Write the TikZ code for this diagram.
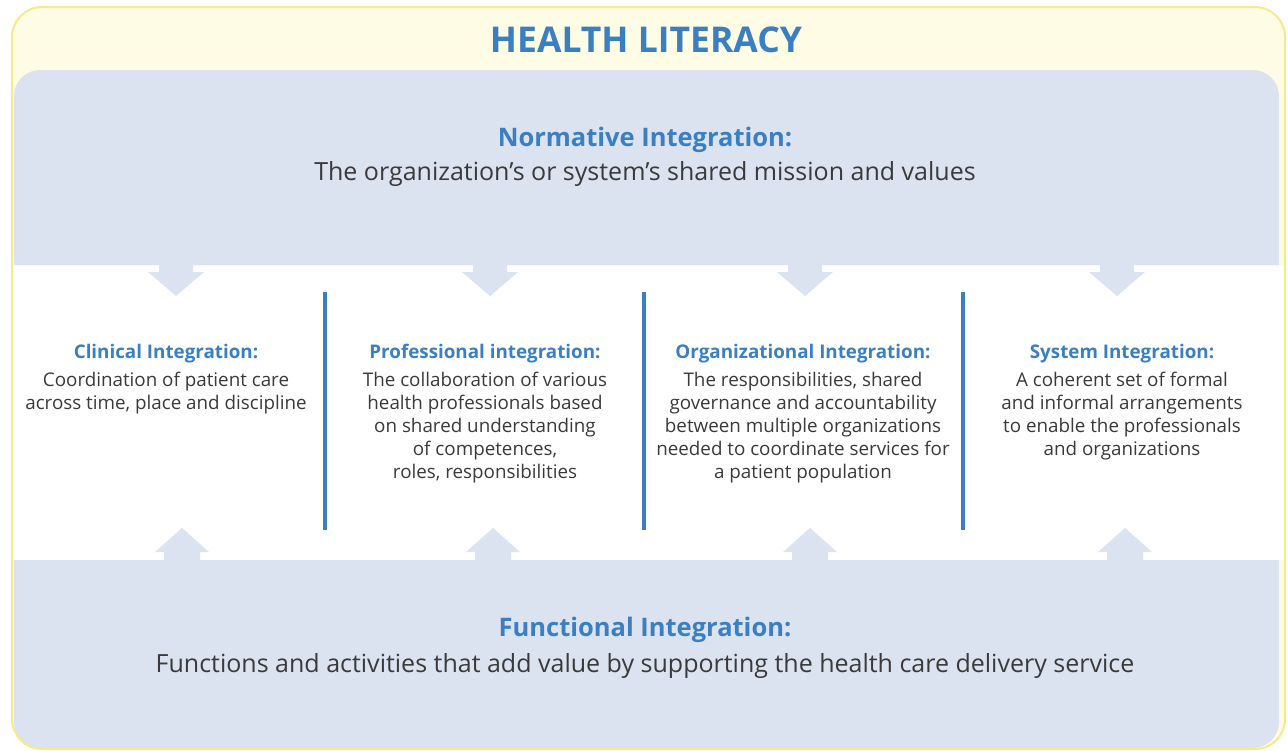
\documentclass[tikz,border=0pt]{standalone}
\usepackage{fontspec}
\setmainfont{Open Sans}
\usetikzlibrary{positioning}
\definecolor{hlblue}{HTML}{3A7FC2}
\definecolor{bandblue}{HTML}{DAE3EF}
\definecolor{paleyellow}{HTML}{FFFCE6}
\definecolor{rimyellow}{HTML}{F6EA8A}
\definecolor{bodygray}{HTML}{3A3A3C}

\tikzset{
  bigtitle/.style={font=\bfseries\fontsize{35.5}{40}\selectfont, text=hlblue, inner sep=0pt},
  bandtitle/.style={font=\bfseries\fontsize{25.5}{30}\selectfont, text=hlblue, inner sep=0pt},
  bandtext/.style={font=\fontsize{25}{29}\selectfont, text=bodygray, inner sep=0pt},
  coltitle/.style={font=\bfseries\fontsize{18.8}{22}\selectfont, text=hlblue, inner sep=0pt},
  coltext/.style={font=\fontsize{18.8}{23}\selectfont, text=bodygray, inner sep=0pt, align=center},
}

\begin{document}
\begin{tikzpicture}[x=1pt,y=-1pt]
    \useasboundingbox (0,0) rectangle (1288,750);

    % Frame and bands
    \fill[paleyellow, rounded corners=30] (12,7) rectangle (1285,749);
    \fill[white] (13,265) rectangle (1284,560);
    \fill[bandblue, rounded corners=26] (14,265) -- (14,70) -- (1279,70) -- (1279,265);
    \fill[bandblue, rounded corners=26] (14,560) -- (14,748) -- (1279,748) -- (1279,560);
    \draw[rimyellow, line width=2pt, rounded corners=30] (12,7) rectangle (1285,749);

    % Arrows out of the bands
    \foreach \ax in {176,490,805,1117}
        \fill[bandblue] (\ax-17,262) -- (\ax+17,262) -- (\ax+17,272) -- (\ax+28,272)
            -- (\ax,296) -- (\ax-28,272) -- (\ax-17,272) -- cycle;
    \foreach \ax in {182,493,810,1125}
        \fill[bandblue] (\ax-18,563) -- (\ax+18,563) -- (\ax+18,552) -- (\ax+27,552)
            -- (\ax,528) -- (\ax-27,552) -- (\ax-18,552) -- cycle;

    % Column rules
    \foreach \lx in {325,644,963}
        \draw[hlblue, line width=4pt] (\lx,292) -- (\lx,530);

    % Headings
    \node[bigtitle] (literacy) at (646,40) {HEALTH LITERACY};
    \node[bandtitle] (normT) at (645,140) {Normative Integration:};
    \node[bandtext, below=8pt of normT] (normD) {The organization’s or system’s shared mission and values};
    \node[bandtitle] (funcT) at (645,630) {Functional Integration:};
    \node[bandtext, below=10pt of funcT] (funcD) {Functions and activities that add value by supporting the health care delivery service};

    % Columns
    \node[coltitle] (clinT) at (166,354) {Clinical Integration:};
    \node[coltext, below=8pt of clinT] (clinD) {Coordination of patient care\\across time, place and discipline};

    \node[coltitle] (profT) at (485,354) {Professional integration:};
    \node[coltext, below=8pt of profT] (profD) {The collaboration of various\\health professionals based\\on shared understanding\\of competences,\\roles, responsibilities};

    \node[coltitle] (orgT) at (803,354) {Organizational Integration:};
    \node[coltext, below=8pt of orgT] (orgD) {The responsibilities, shared\\governance and accountability\\between multiple organizations\\needed to coordinate services for\\a patient population};

    \node[coltitle] (sysT) at (1122,354) {System Integration:};
    \node[coltext, below=8pt of sysT] (sysD) {A coherent set of formal\\and informal arrangements\\to enable the professionals\\and organizations};
\end{tikzpicture}
\end{document}
